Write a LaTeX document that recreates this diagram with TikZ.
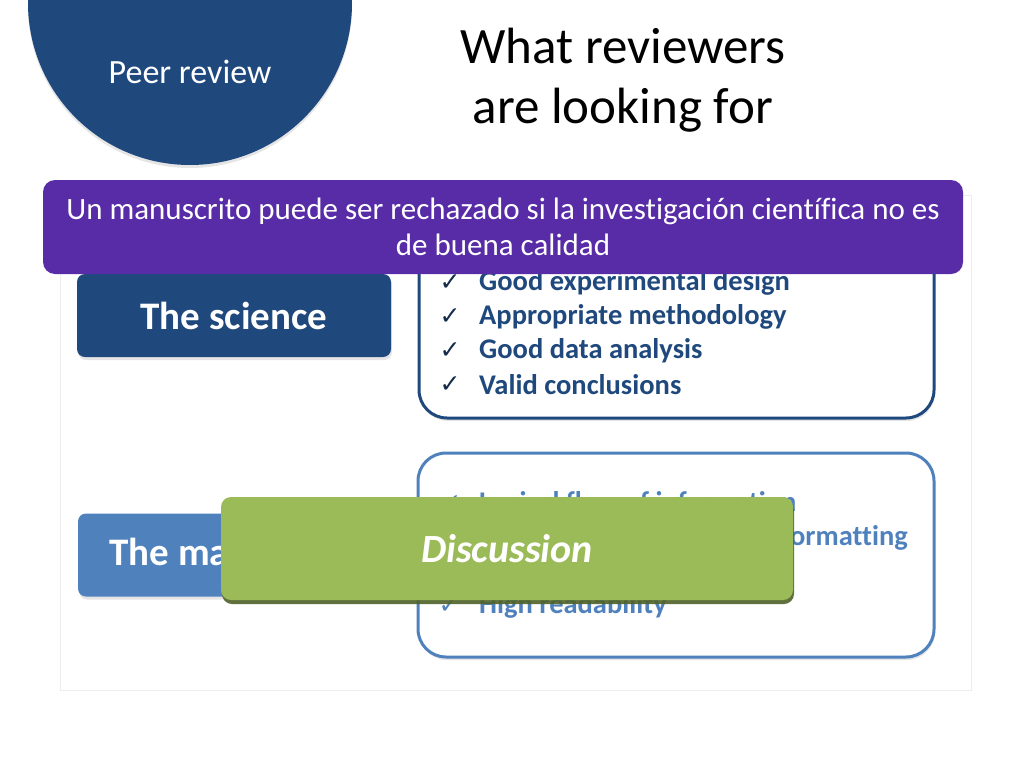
\documentclass[tikz,border=0pt]{standalone}
\usepackage{fontspec}
\setmainfont{Carlito}[Ligatures=NoCommon]
\newfontfamily\symfont{DejaVu Sans}
\usetikzlibrary{shadows}
\pgfdeclarelayer{panellayer}
\pgfdeclarelayer{boxlayer}
\pgfsetlayers{panellayer,boxlayer,main}
\definecolor{navy}{RGB}{31,73,125}
\definecolor{steel}{RGB}{79,129,189}
\definecolor{bannerpurple}{RGB}{88,44,166}
\definecolor{leaf}{RGB}{155,187,89}
\definecolor{leafshade}{RGB}{79,98,40}
\tikzstyle{topic}=[rounded corners=8pt,minimum width=314pt,minimum height=83pt,text=white,font=\fontsize{39}{46}\selectfont\bfseries,drop shadow={shadow xshift=1pt,shadow yshift=-3pt,opacity=0.2}]
\tikzstyle{checklist}=[rounded corners=28pt,fill=white,line width=3pt,drop shadow={shadow xshift=1pt,shadow yshift=-3pt,opacity=0.2}]
\tikzstyle{tick}=[font=\symfont\fontsize{25}{28}\selectfont,inner sep=0pt]
\tikzstyle{item}=[anchor=west,font=\fontsize{28.5}{32}\selectfont\bfseries,inner sep=0pt]

\begin{document}
\begin{tikzpicture}[x=1pt,y=-1pt]
	\useasboundingbox (0, 0) rectangle (1024, 768);
	\begin{pgfonlayer}{panellayer}
		\fill [white] (0, 0) rectangle (1024, 768);
		\draw [draw=black!7, fill=white] (60, 195) rectangle (971, 690);
	\end{pgfonlayer}
	\begin{pgfonlayer}{boxlayer}
		\node [style=checklist, draw=navy, minimum width=515pt, minimum height=203pt] (sciencelist) at (676.5, 316.5) {};
		\node [style=checklist, draw=steel, minimum width=516pt, minimum height=204pt] (writinglist) at (676, 555) {};
	\end{pgfonlayer}
	% science checklist
	\node [style=tick, text=navy!60!black] (t1) at (450, 283) {✓};
	\node [style=item, text=navy] (i1) at (479, 283) {Good experimental design};
	\node [style=tick, text=navy!60!black] (t2) at (450, 317) {✓};
	\node [style=item, text=navy] (i2) at (479, 317) {Appropriate methodology};
	\node [style=tick, text=navy!60!black] (t3) at (450, 351) {✓};
	\node [style=item, text=navy] (i3) at (479, 351) {Good data analysis};
	\node [style=tick, text=navy!60!black] (t4) at (450, 385) {✓};
	\node [style=item, text=navy] (i4) at (479, 385) {Valid conclusions};
	% manuscript checklist
	\node [style=tick, text=steel] (w1) at (451, 504) {✓};
	\node [style=item, text=steel] (j1) at (479, 504) {Logical flow of information};
	\node [style=item, text=steel, anchor=east] (j2) at (908, 538) {formatting};
	\node [style=tick, text=steel] (w4) at (449, 606) {✓};
	\node [style=item, text=steel] (j4) at (479, 606) {High readability};
	% topics
	\node [style=topic, fill=navy] (science) at (234, 315.5) {The science};
	\node [style=topic, fill=steel] (manuscript) at (235, 555) {The manuscript};
	\node [rounded corners=10pt, fill=leaf, minimum width=572pt, minimum height=103pt, text=white, font=\fontsize{40}{46}\selectfont\bfseries\itshape, drop shadow={shadow xshift=1pt, shadow yshift=-4pt, fill=leafshade, opacity=0.9}] (discussion) at (507, 548.5) {Discussion};
	% banner and heading
	\node [rounded corners=12pt, fill=bannerpurple, minimum width=920pt, minimum height=94pt, text=white, align=center, font=\fontsize{31}{36}\selectfont] (banner) at (503, 227) {Un manuscrito puede ser rechazado si la investigación científica no es\\de buena calidad};
	\node [circle, fill=navy, minimum size=324pt, drop shadow={shadow xshift=0pt, shadow yshift=-3pt, opacity=0.2}] (badge) at (190, 3) {};
	\node [text=white, font=\fontsize{34}{40}\selectfont] (badgetext) at (190, 72) {Peer review};
	\node [align=center, font=\fontsize{51}{60}\selectfont] (title) at (623, 80) {What reviewers\\are looking for};
\end{tikzpicture}
\end{document}
